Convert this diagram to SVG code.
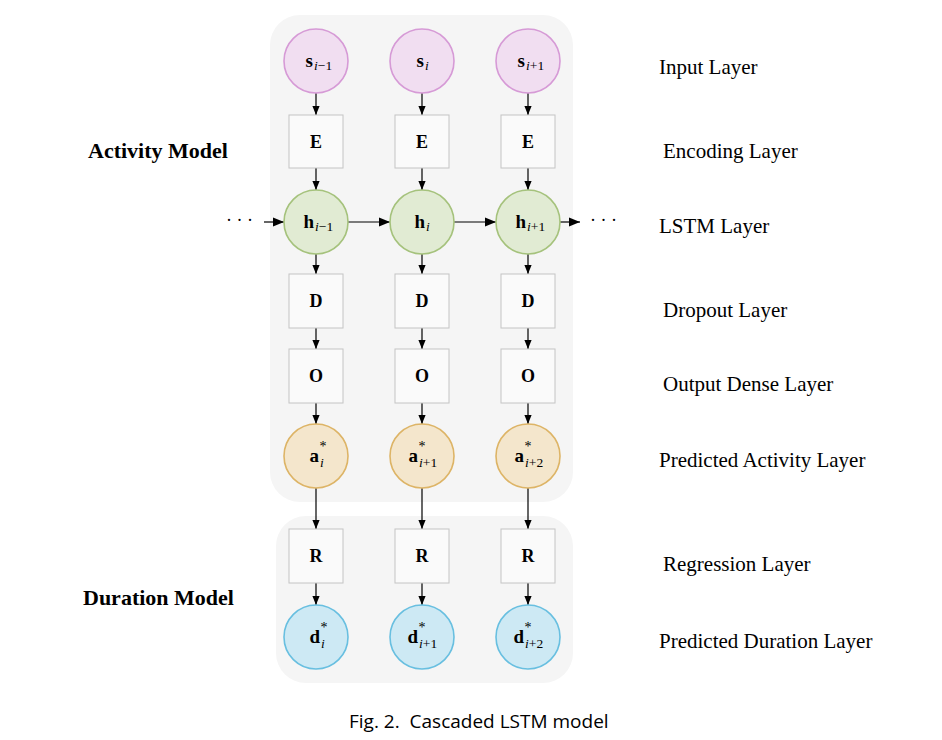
<svg xmlns="http://www.w3.org/2000/svg" width="942" height="740" viewBox="0 0 942 740">
<defs>
<marker id="ah" viewBox="0 0 10 10" refX="10" refY="5" markerWidth="11" markerHeight="11" markerUnits="userSpaceOnUse" orient="auto"><path d="M0,1 L10,5 L0,9 z" fill="#000"/></marker>
<marker id="ahs" viewBox="0 0 10 10" refX="10" refY="5" markerWidth="9" markerHeight="9" markerUnits="userSpaceOnUse" orient="auto"><path d="M0,1 L10,5 L0,9 z" fill="#000"/></marker>
</defs>
<style>
.panel{fill:#f5f5f5;stroke:none}
.box{fill:#fafafa;stroke:#c4c4c4;stroke-width:1}
.s{fill:#f1def1;stroke:#d69ad6;stroke-width:1.6}
.h{fill:#e1ebd3;stroke:#a5c27c;stroke-width:1.6}
.a{fill:#f4e6cc;stroke:#ddb466;stroke-width:1.6}
.d{fill:#cde9f4;stroke:#68bfe0;stroke-width:1.6}
.lbl{font-family:"Liberation Serif","DejaVu Serif",serif;font-size:18px;font-weight:bold;fill:#000;text-anchor:middle}
.m{font-family:"Liberation Serif","DejaVu Serif",serif;font-size:19px;font-weight:bold;fill:#000;text-anchor:end}
.sb{font-family:"Liberation Serif","DejaVu Serif",serif;font-size:13.5px;fill:#000;text-anchor:start}
.st{font-family:"Liberation Serif","DejaVu Serif",serif;font-size:14px;fill:#000;text-anchor:start}
.it{font-style:italic}
.side{font-family:"Liberation Serif","DejaVu Serif",serif;font-size:21px;fill:#000}
.title{font-family:"Liberation Serif","DejaVu Serif",serif;font-size:22px;font-weight:bold;fill:#000}
.cap{font-family:"Open Sans","DejaVu Sans",sans-serif;font-size:19px;fill:#000;white-space:pre}
.c{stroke:#000;stroke-width:1.2;fill:none}
.dots{font-family:"Liberation Serif",serif;font-size:18px;fill:#000}
</style>
<rect class="panel" x="270" y="15" width="303" height="487" rx="30"/>
<rect class="panel" x="276" y="516" width="297" height="167" rx="30"/>

<g id="connectors">
<path class="c" d="M316,93 V115" marker-end="url(#ahs)"/>
<path class="c" d="M422,93 V115" marker-end="url(#ahs)"/>
<path class="c" d="M528,93 V115" marker-end="url(#ahs)"/>
<path class="c" d="M316,168 V190" marker-end="url(#ahs)"/>
<path class="c" d="M422,168 V190" marker-end="url(#ahs)"/>
<path class="c" d="M528,168 V190" marker-end="url(#ahs)"/>
<path class="c" d="M316,254 V274" marker-end="url(#ahs)"/>
<path class="c" d="M422,254 V274" marker-end="url(#ahs)"/>
<path class="c" d="M528,254 V274" marker-end="url(#ahs)"/>
<path class="c" d="M316,328 V349" marker-end="url(#ahs)"/>
<path class="c" d="M422,328 V349" marker-end="url(#ahs)"/>
<path class="c" d="M528,328 V349" marker-end="url(#ahs)"/>
<path class="c" d="M316,403 V424" marker-end="url(#ahs)"/>
<path class="c" d="M422,403 V424" marker-end="url(#ahs)"/>
<path class="c" d="M528,403 V424" marker-end="url(#ahs)"/>
<path class="c" d="M316,488 V529" marker-end="url(#ahs)"/>
<path class="c" d="M422,488 V529" marker-end="url(#ahs)"/>
<path class="c" d="M528,488 V529" marker-end="url(#ahs)"/>
<path class="c" d="M316,583 V605" marker-end="url(#ahs)"/>
<path class="c" d="M422,583 V605" marker-end="url(#ahs)"/>
<path class="c" d="M528,583 V605" marker-end="url(#ahs)"/>
<path class="c" d="M264,222 H284" stroke-width="1.6" marker-end="url(#ah)"/>
<path class="c" d="M348,222 H390" stroke-width="1.6" marker-end="url(#ah)"/>
<path class="c" d="M454,222 H496" stroke-width="1.6" marker-end="url(#ah)"/>
<path class="c" d="M560,222 H580" stroke-width="1.6" marker-end="url(#ah)"/>
</g>
<text class="dots" x="226" y="226">· · ·</text>
<text class="dots" x="590" y="226">· · ·</text>

<g id="s1"><circle class="s" cx="316" cy="61" r="32"/><text class="m" x="313" y="67">s</text><text class="sb" x="314" y="70"><tspan class="it">i</tspan>−1</text></g>
<g id="s2"><circle class="s" cx="422" cy="61" r="32"/><text class="m" x="424" y="67">s</text><text class="sb it" x="425" y="70">i</text></g>
<g id="s3"><circle class="s" cx="528" cy="61" r="32"/><text class="m" x="525" y="67">s</text><text class="sb" x="526" y="70"><tspan class="it">i</tspan>+1</text></g>

<g id="e1"><rect class="box" x="289" y="115" width="54" height="53"/><text class="lbl" x="316" y="148">E</text></g>
<g id="e2"><rect class="box" x="395" y="115" width="54" height="53"/><text class="lbl" x="422" y="148">E</text></g>
<g id="e3"><rect class="box" x="501" y="115" width="54" height="53"/><text class="lbl" x="528" y="148">E</text></g>

<g id="h1"><circle class="h" cx="316" cy="222" r="32"/><text class="m" x="314" y="228">h</text><text class="sb" x="315" y="231"><tspan class="it">i</tspan>−1</text></g>
<g id="h2"><circle class="h" cx="422" cy="222" r="32"/><text class="m" x="425" y="228">h</text><text class="sb it" x="426" y="231">i</text></g>
<g id="h3"><circle class="h" cx="528" cy="222" r="32"/><text class="m" x="526" y="228">h</text><text class="sb" x="527" y="231"><tspan class="it">i</tspan>+1</text></g>

<g id="d1"><rect class="box" x="289" y="274" width="54" height="54"/><text class="lbl" x="316" y="307">D</text></g>
<g id="d2"><rect class="box" x="395" y="274" width="54" height="54"/><text class="lbl" x="422" y="307">D</text></g>
<g id="d3"><rect class="box" x="501" y="274" width="54" height="54"/><text class="lbl" x="528" y="307">D</text></g>

<g id="o1"><rect class="box" x="289" y="349" width="54" height="54"/><text class="lbl" x="316" y="382">O</text></g>
<g id="o2"><rect class="box" x="395" y="349" width="54" height="54"/><text class="lbl" x="422" y="382">O</text></g>
<g id="o3"><rect class="box" x="501" y="349" width="54" height="54"/><text class="lbl" x="528" y="382">O</text></g>

<g id="a1"><circle class="a" cx="316" cy="456" r="32"/><text class="m" x="319" y="462">a</text><text class="st" x="319.5" y="451">*</text><text class="sb it" x="320" y="467">i</text></g>
<g id="a2"><circle class="a" cx="422" cy="456" r="32"/><text class="m" x="418" y="462">a</text><text class="st" x="418.5" y="451">*</text><text class="sb" x="419" y="467"><tspan class="it">i</tspan>+1</text></g>
<g id="a3"><circle class="a" cx="528" cy="456" r="32"/><text class="m" x="524" y="462">a</text><text class="st" x="524.5" y="451">*</text><text class="sb" x="525" y="467"><tspan class="it">i</tspan>+2</text></g>

<g id="r1"><rect class="box" x="289" y="529" width="54" height="54"/><text class="lbl" x="316" y="562">R</text></g>
<g id="r2"><rect class="box" x="395" y="529" width="54" height="54"/><text class="lbl" x="422" y="562">R</text></g>
<g id="r3"><rect class="box" x="501" y="529" width="54" height="54"/><text class="lbl" x="528" y="562">R</text></g>

<g id="dd1"><circle class="d" cx="316" cy="637" r="32"/><text class="m" x="320" y="643">d</text><text class="st" x="320.5" y="632">*</text><text class="sb it" x="321" y="648">i</text></g>
<g id="dd2"><circle class="d" cx="422" cy="637" r="32"/><text class="m" x="418" y="643">d</text><text class="st" x="418.5" y="632">*</text><text class="sb" x="419" y="648"><tspan class="it">i</tspan>+1</text></g>
<g id="dd3"><circle class="d" cx="528" cy="637" r="32"/><text class="m" x="524" y="643">d</text><text class="st" x="524.5" y="632">*</text><text class="sb" x="525" y="648"><tspan class="it">i</tspan>+2</text></g>

<g id="labels">
<text class="title" x="88" y="158">Activity Model</text>
<text class="title" x="83" y="605">Duration Model</text>
<text class="side" x="659" y="74">Input Layer</text>
<text class="side" x="663" y="158">Encoding Layer</text>
<text class="side" x="659" y="233">LSTM Layer</text>
<text class="side" x="663" y="317">Dropout Layer</text>
<text class="side" x="663" y="391">Output Dense Layer</text>
<text class="side" x="659" y="467">Predicted Activity Layer</text>
<text class="side" x="663" y="571">Regression Layer</text>
<text class="side" x="659" y="648">Predicted Duration Layer</text>
<text class="cap" x="349" y="728" xml:space="preserve">Fig. 2.  Cascaded LSTM model</text>
</g>
</svg>
